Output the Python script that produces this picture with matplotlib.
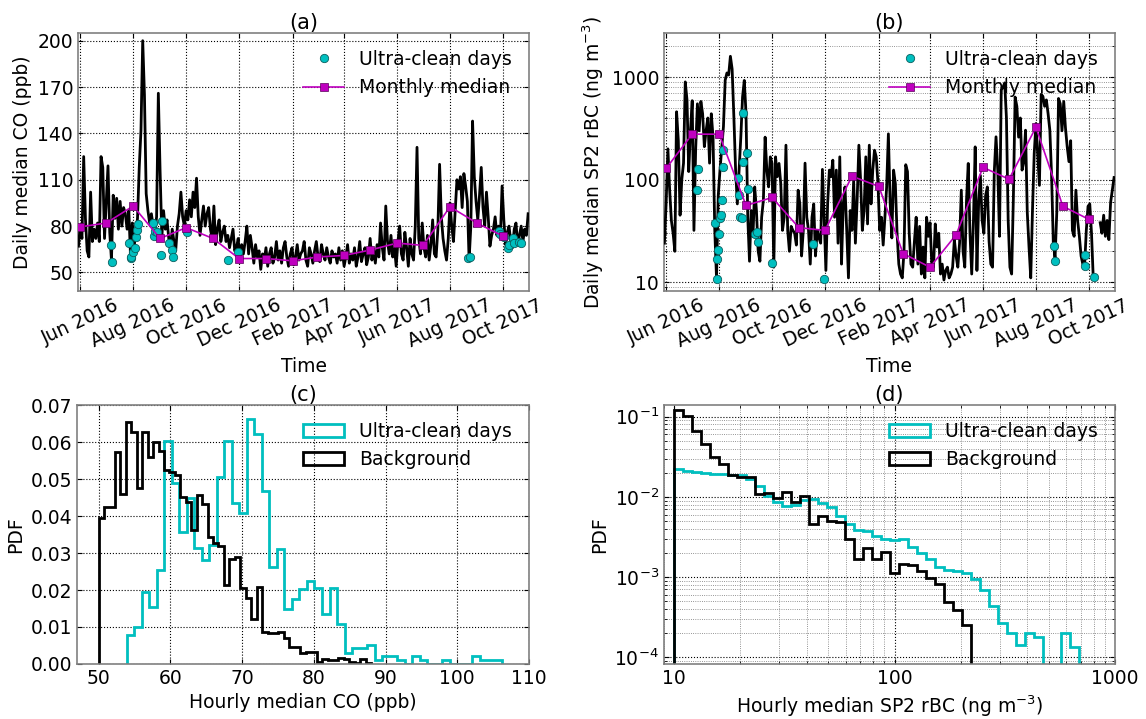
import numpy as np
import pandas as pd
import matplotlib
matplotlib.use('Agg')
import matplotlib.pyplot as plt
import matplotlib.dates as mdates
from matplotlib.ticker import FormatStrFormatter, NullFormatter

# ---- data ----
# daily medians, one value every 2 days starting 2016-05-30
co_daily = [
    67, 80, 72, 125, 85, 64, 60, 102, 70, 78, 72, 82, 70, 125, 118, 72, 95, 119, 76, 58, 100,
    85, 98, 78, 96, 80, 92, 88, 78, 90, 60, 82, 68, 76, 85, 118, 142, 200, 165, 101, 90,
    82, 88, 80, 76, 86, 166, 116, 74, 90, 78, 84, 72, 66, 78, 70, 64, 80, 88, 102, 86,
    80, 90, 84, 97, 86, 102, 92, 111, 86, 74, 84, 93, 80, 88, 92, 78, 72, 93, 68, 78,
    84, 70, 76, 80, 70, 74, 66, 72, 78, 64, 66, 72, 57, 68, 62, 70, 80, 62, 74, 66,
    56, 68, 60, 64, 52, 62, 58, 66, 54, 62, 66, 56, 60, 70, 58, 64, 56, 66, 70, 60,
    54, 62, 66, 55, 60, 68, 58, 62, 64, 70, 58, 54, 66, 62, 56, 64, 70, 60, 57, 68,
    62, 58, 66, 60, 56, 64, 60, 62, 56, 66, 58, 64, 54, 60, 68, 56, 62, 58, 66, 54,
    60, 70, 57, 62, 66, 55, 60, 72, 58, 64, 56, 68, 60, 82, 66, 58, 93, 70, 62, 74,
    60, 66, 54, 70, 80, 62, 58, 76, 66, 54, 72, 62, 58, 80, 131, 72, 62, 82, 66, 60,
    74, 58, 68, 84, 62, 60, 78, 120, 86, 72, 64, 58, 72, 95, 80, 70, 90, 110, 104, 112,
    92, 114, 106, 96, 58, 80, 148, 112, 96, 84, 100, 118, 92, 80, 102, 86, 67, 74, 78, 86,
    74, 80, 72, 106, 84, 68, 76, 80, 70, 66, 78, 82, 68, 74, 80, 70, 78, 74, 88,
]
nan = np.nan
bc_daily = [
    24, 60, 200, 80, 40, 30, 20, 460, 240, 45, 100, 145, 900, 600, 120, 300, 590, 32, 200, 550, 300,
    580, 440, 210, 300, 400, 145, 440, 260, 32, 11, 70, 124, 200, 330, 935, 1100, 1050, 1600, 1200, 410,
    124, 58, 124, 260, 640, 930, 443, 43, 16, 50, 28, 85, 50, 20, 16, 43, 63, 260, 124, 85,
    167, 144, 14, 167, 107, 144, 92, 32, 43, 217, 32, 20, 35, 32, 30, 23, 79, 58, 18, 32,
    145, 43, 32, 15, 43, 58, 18, 32, 27, 24, 126, 43, 13, 58, 124, 107, 155, 43, 124, 24,
    167, 15, 58, 85, 32, 11, 50, 32, 99, 24, 63, 217, 99, 32, 50, 167, 37, 217, 58, 124,
    194, 167, 92, 32, 43, 23, 43, 85,
    280, 60, 27, 124, 92, 30, 15, 12, 11, 20, 140, 120,
    30, 15, 14, 25, 43, 15, 35, 12, 22, 11, 43, 28, 38, 15, 14, 37, 22, 30, 12, 15,
    10.5, 13, 14, 11, 12, 14, 26, 18, 14, 24, 79, 20, 14, 63, 144, 30, 12, 40, 209, 13,
    60, 110, 40, 30, 70, 85, 25, 15, 14, 120, 262, 124, 28, 750, 800, 880, 400, 40, 14, 12,
    68, 640, 520, 260, 400, 124, 150, 304, 48, 22, 11, 50, 180, 353, 180, 88, 680, 650, 520, 600,
    440, 304, 110, 24, 17, 48, 620, 550, 300, 580, 320, 210, 150, 240, 32, 28, 79, 40, 28, 18,
    15, 14, 32, 55, 58, 30, 11, nan, nan, nan, 38, 30, 45, 28, 40, 26, 60, 80, 105,
]

# monthly medians (first of each month, Jun 2016 - Oct 2017)
co_monthly = [79.5, 82, 93, 72, 79, 72, 59, 59, 57.5, 60, 61, 64.5, 69, 67.5, 92.5, 82, 73.5]
bc_monthly = [129, 278, 278, 56, 67, 34, 32, 108, 86, 19, 14, 29, 132, 101, 325, 55, 41]

# ultra-clean days: days after 2016-06-01 and values
uc_co_day = [36, 37, 56, 58, 59, 61, 63, 64, 65, 67, 84, 85, 86, 88, 93, 94, 102, 106, 107,
             123, 170, 182, 447, 449, 482, 484, 488, 493, 494, 498, 500, 506, 508]
uc_co_val = [68, 57, 69, 59.5, 60, 63, 66, 73, 77.5, 81.5, 82, 73.5, 77, 76, 61, 83.5, 69, 64.5, 60,
             76, 58, 63.5, 59.5, 60, 77, 75, 73, 65.5, 67.5, 72.5, 69, 70, 69]
uc_bc_day = [36, 37, 56, 58, 59, 60, 61, 62, 63, 64, 65, 66, 83, 84, 85, 87, 88, 89, 93, 94,
             102, 105, 106, 122, 169, 182, 447, 448, 482, 483, 493]
uc_bc_val = [79, 127, 37.7, 10.7, 16.8, 20.5, 29.4, 42, 45, 63, 132, 194, 103, 70.6, 43, 42, 148, 445,
             181, 81, 29.4, 30.7, 24.5, 15.3, 23.5, 10.7, 22.4, 16, 18.3, 14.3, 11.2]

# PDFs of hourly medians (50 linear bins each)
co_bg_pdf = [0.0394, 0.0425, 0.0425, 0.0574, 0.0459, 0.0655, 0.0628, 0.0475, 0.0628, 0.056,
             0.060, 0.0577, 0.0524, 0.052, 0.051, 0.0452, 0.0439, 0.0362, 0.0457, 0.0432,
             0.0344, 0.0328, 0.032, 0.0213, 0.0284, 0.0288, 0.0205, 0.0178, 0.0121, 0.0207,
             0.0086, 0.0083, 0.0083, 0.0087, 0.0069, 0.0045, 0.0045, 0.0029, 0.0032, 0.0032,
             0.0006, 0.0013, 0.0011, 0.0011, 0.0017, 0.0013, 0.0006, 0.0004, 0.0013, 0.0004]
co_uc_pdf = [0.0078, 0.0099, 0.0195, 0.0155, 0.0254, 0.0603, 0.0488, 0.0358, 0.0448, 0.0313,
             0.0281, 0.0322, 0.0506, 0.0603, 0.0436, 0.0407, 0.0661, 0.0623, 0.0468, 0.0263,
             0.0311, 0.0148, 0.0175, 0.0202, 0.0225, 0.0205, 0.0135, 0.0205, 0.0108, 0.0031,
             0.0042, 0.0042, 0.005, 0.0011, 0.0022, 0.0022, 0.0011, 0.0, 0.0022, 0.0011,
             0.0, 0.0, 0.0011, 0.0, 0.0, 0.0, 0.0022, 0.0011, 0.0011, 0.0011]
co_bg_range = (50.0, 88.0)
co_uc_range = (53.9, 106.3)

# PDFs on log bins (10 - 1000 ng m-3, 49 bins)
bc_bg_pdf = [0.1223, 0.1029, 0.0656, 0.0455, 0.0313, 0.0256, 0.0188, 0.0176, 0.0176, 0.0108,
             0.0113, 0.0098, 0.0114, 0.0085, 0.0101, 0.0046, 0.0058, 0.0050, 0.0048, 0.0030,
             0.0017, 0.0023, 0.00166, 0.00207, 0.00113, 0.00145, 0.00141, 0.0012, 0.00096,
             0.00082, 0.00049, 0.00039, 0.00025]
bc_uc_pdf = [0.0224, 0.0211, 0.0203, 0.0198, 0.0194, 0.0192, 0.0188, 0.0188, 0.0166, 0.0135,
             0.0103, 0.0085, 0.0076, 0.0078, 0.0092, 0.0094, 0.0083, 0.0074, 0.0057, 0.0046,
             0.0039, 0.0038, 0.0032, 0.0030, 0.0029, 0.0030, 0.0024, 0.0020, 0.00168, 0.00132,
             0.00122, 0.0012, 0.00111, 0.00093, 0.00069, 0.00043, 0.00027, 0.0002, 0.00014,
             0.0002, 0.000176, 0.0, 0.0, 0.0002, 0.000132]

# ---- style ----
plt.rcParams.update({
    'font.family': 'DejaVu Sans',
    'font.size': 13.5,
    'xtick.direction': 'in',
    'ytick.direction': 'in',
    'xtick.top': True,
    'ytick.right': True,
    'axes.edgecolor': '0.5',
    'axes.linewidth': 1.2,
    'grid.color': 'k',
    'grid.linestyle': ':',
    'grid.linewidth': 0.8,
    'mathtext.default': 'regular',
    'legend.frameon': False,
    'legend.fontsize': 13.5,
    'legend.handlelength': 2.2,
})

start = pd.Timestamp('2016-06-01')
days = pd.date_range('2016-05-30', periods=len(co_daily), freq='2D')
months = pd.date_range('2016-06-01', periods=len(co_monthly), freq='MS')
uc_co_dates = start + pd.to_timedelta(uc_co_day, unit='D')
uc_bc_dates = start + pd.to_timedelta(uc_bc_day, unit='D')
t0, t1 = pd.Timestamp('2016-05-29 12:00'), pd.Timestamp('2017-10-31')

fig = plt.figure(figsize=(11.46, 7.19), dpi=100)
ax1 = fig.add_axes([0.0681, 0.5953, 0.3935, 0.3588])
ax2 = fig.add_axes([0.5794, 0.5953, 0.3935, 0.3588])
ax3 = fig.add_axes([0.0672, 0.0765, 0.3944, 0.3602])
ax4 = fig.add_axes([0.5794, 0.0765, 0.3935, 0.3602])

uc_style = dict(linestyle='none', marker='o', color='c', markersize=6,
                markeredgecolor='#0b5f5f', markeredgewidth=0.6, zorder=4)
mm_style = dict(color='m', marker='s', markersize=6, linewidth=1.2,
                markeredgecolor='#5a005a', markeredgewidth=0.5, zorder=5)

def time_axis(ax):
    ax.xaxis.set_major_locator(mdates.MonthLocator(bymonth=[2, 4, 6, 8, 10, 12]))
    ax.xaxis.set_major_formatter(mdates.DateFormatter('%b %Y'))
    for lab in ax.get_xticklabels():
        lab.set_rotation(25)
        lab.set_ha('center')
    ax.set_xlim(t0, t1)
    ax.set_xlabel('Time')
    ax.grid(True)

# (a) CO time series
ax1.plot(days, co_daily, color='k', linewidth=2, zorder=3)
ax1.plot(uc_co_dates, uc_co_val, label='Ultra-clean days', **uc_style)
ax1.plot(months, co_monthly, label='Monthly median', **mm_style)
ax1.set_ylim(38, 205)
ax1.set_yticks([50, 80, 110, 140, 170, 200])
ax1.set_ylabel('Daily median CO (ppb)')
ax1.set_title('(a)', fontsize=15, pad=3)
time_axis(ax1)
ax1.legend(loc='upper right', numpoints=1)

# (b) rBC time series
ax2.plot(days, bc_daily, color='k', linewidth=2, zorder=3)
ax2.plot(uc_bc_dates, uc_bc_val, label='Ultra-clean days', **uc_style)
ax2.plot(months, bc_monthly, label='Monthly median', **mm_style)
ax2.set_yscale('log')
ax2.set_ylim(8.2, 2700)
ax2.yaxis.set_major_formatter(FormatStrFormatter('%d'))
ax2.yaxis.set_minor_formatter(NullFormatter())
ax2.set_ylabel('Daily median SP2 rBC (ng m$^{-3}$)')
ax2.set_title('(b)', fontsize=15, pad=3)
time_axis(ax2)
ax2.grid(True, which='minor', axis='y', color='0.45', linewidth=0.6)
ax2.legend(loc='upper right', numpoints=1)

# (c) CO PDFs
uc_edges = np.linspace(co_uc_range[0], co_uc_range[1], len(co_uc_pdf) + 1)
bg_edges = np.linspace(co_bg_range[0], co_bg_range[1], len(co_bg_pdf) + 1)
ax3.hist(0.5 * (uc_edges[:-1] + uc_edges[1:]), bins=uc_edges, weights=co_uc_pdf,
         histtype='step', color='c', linewidth=2, label='Ultra-clean days')
ax3.hist(0.5 * (bg_edges[:-1] + bg_edges[1:]), bins=bg_edges, weights=co_bg_pdf,
         histtype='step', color='k', linewidth=2, label='Background')
ax3.set_xlim(47, 110)
ax3.set_ylim(0, 0.07)
ax3.set_xticks(np.arange(50, 111, 10))
ax3.set_yticks(np.arange(0, 0.0701, 0.01))
ax3.yaxis.set_major_formatter(FormatStrFormatter('%.2f'))
ax3.set_xlabel('Hourly median CO (ppb)')
ax3.set_ylabel('PDF')
ax3.set_title('(c)', fontsize=15, pad=3)
ax3.grid(True)
ax3.legend(loc='upper right')

# (d) rBC PDFs
log_edges = np.logspace(1, 3, 50)
e_uc = log_edges[:len(bc_uc_pdf) + 1]
e_bg = log_edges[:len(bc_bg_pdf) + 1]
ax4.set_xscale('log')
ax4.set_yscale('log')
ax4.hist(np.sqrt(e_uc[:-1] * e_uc[1:]), bins=e_uc, weights=bc_uc_pdf,
         histtype='step', color='c', linewidth=2, label='Ultra-clean days')
ax4.hist(np.sqrt(e_bg[:-1] * e_bg[1:]), bins=e_bg, weights=bc_bg_pdf,
         histtype='step', color='k', linewidth=2, label='Background')
ax4.set_xlim(9, 1000)
ax4.set_ylim(8.2e-5, 0.14)
ax4.xaxis.set_major_formatter(FormatStrFormatter('%d'))
ax4.xaxis.set_minor_formatter(NullFormatter())
ax4.set_xlabel('Hourly median SP2 rBC (ng m$^{-3}$)')
ax4.set_ylabel('PDF')
ax4.set_title('(d)', fontsize=15, pad=3)
ax4.grid(True, which='major')
ax4.grid(True, which='minor', color='0.45', linewidth=0.6)
ax4.legend(loc='upper right')

fig.savefig('out.png', dpi=100)
